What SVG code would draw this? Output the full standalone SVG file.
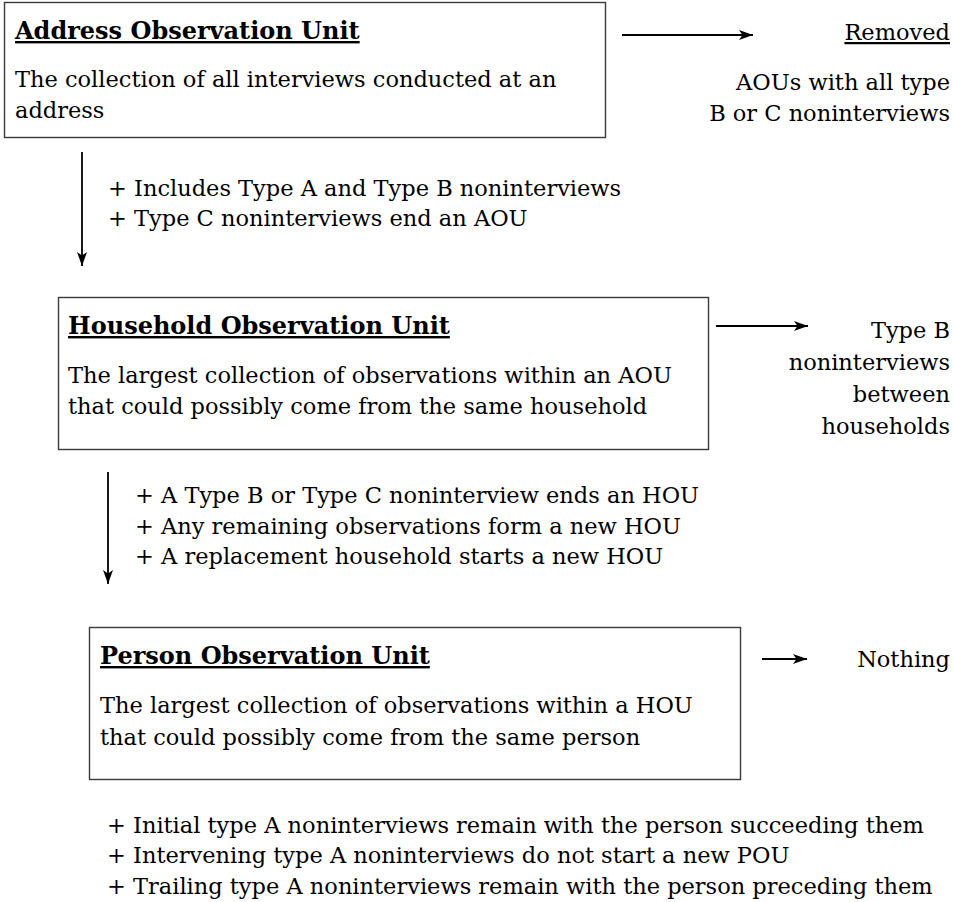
<svg xmlns="http://www.w3.org/2000/svg" width="953" height="902" viewBox="0 0 953 902">
<defs>
<marker id="ah" viewBox="0 0 14 10" refX="14" refY="5" markerWidth="14" markerHeight="10" markerUnits="userSpaceOnUse" orient="auto">
<path d="M0,0 L14,5 L0,10 L3.5,5 Z" fill="#000"/>
</marker>
<style>
text{font-family:"DejaVu Serif","Liberation Serif",serif;fill:#000;font-size:22.5px}
.t{font-weight:bold;font-size:24px;text-decoration:underline}
.r{text-anchor:end}
.box{fill:#fff;stroke:#3a3a3a;stroke-width:1.4}
.c{stroke:#000;stroke-width:1.8;fill:none;marker-end:url(#ah)}
</style>
</defs>
<rect width="953" height="902" fill="#fff"/>
<g id="aou">
<rect class="box" x="4.5" y="2.5" width="601" height="135"/>
<text class="t" x="15" y="39">Address Observation Unit</text>
<text x="15" y="87">The collection of all interviews conducted at an</text>
<text x="15" y="118">address</text>
</g>
<g id="removed">
<text class="r" x="950" y="40" text-decoration="underline">Removed</text>
<text class="r" x="950" y="90">AOUs with all type</text>
<text class="r" x="950" y="121">B or C noninterviews</text>
</g>
<g id="aou-notes">
<text x="108" y="196">+ Includes Type A and Type B noninterviews</text>
<text x="108" y="226">+ Type C noninterviews end an AOU</text>
</g>
<g id="hou">
<rect class="box" x="58.5" y="297.5" width="650" height="152"/>
<text class="t" x="68" y="334">Household Observation Unit</text>
<text x="68" y="383">The largest collection of observations within an AOU</text>
<text x="68" y="414">that could possibly come from the same household</text>
</g>
<g id="typeb">
<text class="r" x="950" y="338">Type B</text>
<text class="r" x="950" y="370">noninterviews</text>
<text class="r" x="950" y="402">between</text>
<text class="r" x="950" y="434">households</text>
</g>
<g id="hou-notes">
<text x="135" y="503">+ A Type B or Type C noninterview ends an HOU</text>
<text x="135" y="534">+ Any remaining observations form a new HOU</text>
<text x="135" y="564">+ A replacement household starts a new HOU</text>
</g>
<g id="pou">
<rect class="box" x="89.5" y="627.5" width="651" height="152"/>
<text class="t" x="100" y="664">Person Observation Unit</text>
<text x="100" y="713">The largest collection of observations within a HOU</text>
<text x="100" y="745">that could possibly come from the same person</text>
</g>
<g id="nothing">
<text class="r" x="950" y="667">Nothing</text>
</g>
<g id="pou-notes">
<text x="107" y="833">+ Initial type A noninterviews remain with the person succeeding them</text>
<text x="107" y="863">+ Intervening type A noninterviews do not start a new POU</text>
<text x="107" y="894">+ Trailing type A noninterviews remain with the person preceding them</text>
</g>
<g id="connectors">
<line class="c" x1="622" y1="35" x2="753" y2="35"/>
<line class="c" x1="82" y1="152" x2="82" y2="266"/>
<line class="c" x1="716" y1="326" x2="808" y2="326"/>
<line class="c" x1="108" y1="472" x2="108" y2="584"/>
<line class="c" x1="762" y1="659" x2="807" y2="659"/>
</g>
</svg>
